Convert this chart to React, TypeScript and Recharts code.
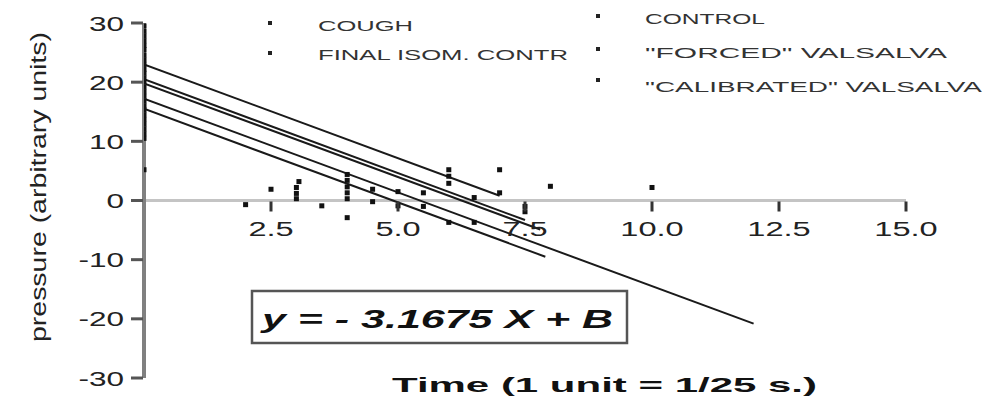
import React from "react";
import {
  ComposedChart,
  Scatter,
  Line,
  XAxis,
  YAxis,
  ReferenceLine,
  Legend,
} from "recharts";

const W = 983;
const H = 403;
const MARGIN = { top: 23, right: 77, bottom: 24, left: 84 };
const X_AXIS_H = 1;
const Y_AXIS_W = 60;

const X_DOMAIN = [0, 15];
const Y_DOMAIN = [-30, 30];
const X_TICKS = [2.5, 5, 7.5, 10, 12.5, 15];
const Y_TICKS = [-30, -20, -10, 0, 10, 20, 30];

const SERIES_NAMES = [
  "COUGH",
  "FINAL ISOM. CONTR",
  "CONTROL",
  '"FORCED" VALSALVA',
  '"CALIBRATED" VALSALVA',
];

// raw points, [time, pressure]
const COUGH_PTS = [
  [0, 29.5], [0, 27], [0, 24.6], [0, 22.2], [0, 19.2],
  [2.5, 1.9], [4.5, 1.9], [7, 5.2], [8, 2.4], [10, 2.2],
];
const ISOM_PTS = [
  [0, 28.6], [0, 25.5], [0, 23], [0, 20], [0, 16.8], [0, 13.7],
  [3, 0.3], [3, 1.2], [3, 2.2], [3.05, 3.2], [6, 5.2], [6, 4.1],
];
const CONTROL_PTS = [
  [0, 27.8], [0, 23.8], [0, 20.7], [0, 17.6], [0, 14.5],
  [4, 0.3], [4, 1.3], [4, 2.3], [4, 3.4], [4, 4.4], [6, 2.9], [7, 1.3],
];
const FORCED_PTS = [
  [0, 26.2], [0, 21.5], [0, 18.4], [0, 15.3], [0, 12.1], [0, 10.5],
  [2, -0.7], [3.5, -0.9], [4, -2.9], [5, -0.9], [6, -3.7], [6.5, -3.7],
];
const CALIB_PTS = [
  [0, 16], [0, 12.9], [0, 11.3], [0, 5.2],
  [4.5, -0.2], [5, 1.5], [5.5, -1], [5.5, 1.3], [6.5, 0.5], [7.5, -1], [7.5, -1.9],
];

// fitted lines (start / end)
const COUGH_FIT = [[0, 23.0], [7.0, 0.8]];
const ISOM_FIT = [[0, 20.5], [7.5, -3.3]];
const CONTROL_FIT = [[0, 19.8], [7.8, -4.9]];
const FORCED_FIT = [[0, 17.2], [12.0, -20.8]];
const CALIB_FIT = [[0, 15.5], [7.9, -9.5]];

const ALL_PTS = [COUGH_PTS, ISOM_PTS, CONTROL_PTS, FORCED_PTS, CALIB_PTS];
const ALL_FITS = [COUGH_FIT, ISOM_FIT, CONTROL_FIT, FORCED_FIT, CALIB_FIT];

const toXY = (pts: number[][]) => pts.map(([x, y]) => ({ x, y }));

const FONT = "'Liberation Sans', Arial, Helvetica, sans-serif";
const PLOT_H = H - MARGIN.top - MARGIN.bottom - X_AXIS_H;
const Y0 =
  MARGIN.top + (PLOT_H * (Y_DOMAIN[1] - 0)) / (Y_DOMAIN[1] - Y_DOMAIN[0]);
const AXIS_X = MARGIN.left + Y_AXIS_W;

// legend slots: marker x/y, text x/center, text width
const LEGEND_POS = [
  { mx: 270, my: 23, tx: 318, ty: 25, tw: 95 },
  { mx: 270, my: 53, tx: 318, ty: 54, tw: 250 },
  { mx: 598, my: 16, tx: 645, ty: 18, tw: 120 },
  { mx: 598, my: 49, tx: 645, ty: 52, tw: 302 },
  { mx: 598, my: 80, tx: 645, ty: 86, tw: 337 },
];

function Square(props: any) {
  const { cx, cy } = props;
  if (cx == null || cy == null) return null;
  return <rect x={cx - 2.5} y={cy - 2.5} width={5} height={5} fill="#111" />;
}

function XTick(props: any) {
  const { x, payload } = props;
  return (
    <g>
      <path d={`M${x},${Y0 + 1}V${Y0 + 11}`} stroke="#333" strokeWidth={3} fill="none" />
      <text
        transform={`translate(${x},${Y0 + 35}) scale(1.55,1)`}
        textAnchor="middle"
        fontSize={21}
        fontFamily={FONT}
        fill="#222"
      >
        {Number(payload.value).toFixed(1)}
      </text>
    </g>
  );
}

function YTick(props: any) {
  const { x, y, payload } = props;
  return (
    <g>
      <path d={`M${AXIS_X - 13},${y}H${AXIS_X - 1}`} stroke="#555" strokeWidth={3} fill="none" />
      <text
        transform={`translate(${x},${y + 7.5}) scale(1.5,1)`}
        textAnchor="end"
        fontSize={21}
        fontFamily={FONT}
        fill="#222"
      >
        {String(payload.value)}
      </text>
    </g>
  );
}

function LegendBox(props: any) {
  const items = (props.payload || []).filter(
    (p: any) => SERIES_NAMES.indexOf(p.value) >= 0
  );
  return (
    <svg width={W} height={100} style={{ display: "block" }}>
      {items.map((p: any) => {
        const pos = LEGEND_POS[SERIES_NAMES.indexOf(p.value)];
        return (
          <g key={p.value}>
            <rect x={pos.mx - 2} y={pos.my - 2} width={4} height={4} fill="#222" />
            <text
              x={pos.tx}
              y={pos.ty + 5.5}
              fontSize={15}
              fontFamily={FONT}
              fill="#333"
              textLength={pos.tw}
              lengthAdjust="spacingAndGlyphs"
            >
              {p.value}
            </text>
          </g>
        );
      })}
    </svg>
  );
}

export default function App() {
  return (
    <div style={{ position: "absolute", left: 0, top: 0, width: W, height: H, background: "#fff" }}>
      <ComposedChart width={W} height={H} margin={MARGIN}>
        <XAxis
          type="number"
          dataKey="x"
          domain={X_DOMAIN}
          ticks={X_TICKS}
          height={X_AXIS_H}
          axisLine={false}
          tickLine={false}
          tick={<XTick />}
          interval={0}
          allowDataOverflow
        />
        <YAxis
          type="number"
          dataKey="y"
          domain={Y_DOMAIN}
          ticks={Y_TICKS}
          width={Y_AXIS_W}
          axisLine={{ stroke: "#808080", strokeWidth: 4 }}
          tickLine={false}
          tickSize={12}
          tickMargin={8}
          tick={<YTick />}
          interval={0}
          allowDataOverflow
        />
        <ReferenceLine y={0} stroke="#c4c4c4" strokeWidth={3} />
        {ALL_FITS.map((fit, i) => (
          <Line
            key={"fit" + i}
            data={toXY(fit)}
            dataKey="y"
            stroke="#1a1a1a"
            strokeWidth={2}
            dot={false}
            activeDot={false}
            legendType="none"
            isAnimationActive={false}
          />
        ))}
        {ALL_PTS.map((pts, i) => (
          <Scatter
            key={"pts" + i}
            name={SERIES_NAMES[i]}
            data={toXY(pts)}
            dataKey="y"
            fill="#111"
            shape={<Square />}
            legendType="square"
            isAnimationActive={false}
          />
        ))}
        <Legend
          layout="horizontal"
          verticalAlign="middle"
          align="center"
          content={<LegendBox />}
          wrapperStyle={{ position: "absolute", left: 0, top: 0, width: W, height: 100 }}
        />
      </ComposedChart>
      <svg
        width={W}
        height={H}
        style={{ position: "absolute", left: 0, top: 0, pointerEvents: "none" }}
      >
        <text
          transform="translate(46,187) rotate(-90)"
          textAnchor="middle"
          fontSize={22}
          fontFamily={FONT}
          fill="#222"
          textLength={310}
          lengthAdjust="spacingAndGlyphs"
        >
          pressure (arbitrary units)
        </text>
        <rect x={252} y={291} width={375} height={52} fill="#fff" stroke="#555" strokeWidth={2.5} />
        <text
          x={262}
          y={328}
          fontSize={25}
          fontWeight="bold"
          fontStyle="italic"
          fontFamily={FONT}
          fill="#111"
          textLength={351}
          lengthAdjust="spacingAndGlyphs"
        >
          y = - 3.1675 X + B
        </text>
        <text
          x={392}
          y={392}
          fontSize={21}
          fontWeight="bold"
          fontFamily={FONT}
          fill="#111"
          textLength={425}
          lengthAdjust="spacingAndGlyphs"
        >
          Time (1 unit = 1/25 s.)
        </text>
      </svg>
    </div>
  );
}
